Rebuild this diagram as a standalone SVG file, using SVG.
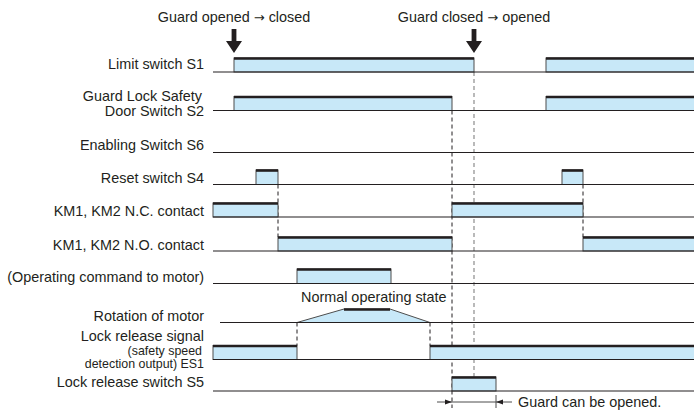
<svg xmlns="http://www.w3.org/2000/svg" width="694" height="413" viewBox="0 0 694 413">
<style>
text{font-family:"Liberation Sans",Arial,sans-serif;font-size:14.4px;fill:#231f20}
.lbl{text-anchor:end}
.sm{font-size:12.4px}
.mid{text-anchor:middle}
.arr{font-family:"DejaVu Sans",sans-serif;font-size:13px}
.base{stroke:#231f20;stroke-width:1.1;fill:none}
.pulse{fill:#c8e8f8;stroke:#4d4d4d;stroke-width:1}
.top{stroke:#231f20;stroke-width:2.6;fill:none}
.dash{stroke:#231f20;stroke-width:1;stroke-dasharray:4 3;fill:none}
.gdash{stroke:#8c8c8c;stroke-width:1.2;stroke-dasharray:4 3;fill:none}
.dim{stroke:#4d4d4d;stroke-width:1;fill:none}
.ah{fill:#231f20}
</style>
<defs>
<path id="down" d="M-2.4,0 H2.4 V12 H8 L0,24 L-8,12 H-2.4 Z" fill="#231f20"/>
</defs>
<rect width="694" height="413" fill="#fff"/>

<g id="events">
<text class="mid" x="234" y="22">Guard opened <tspan class="arr">→</tspan> closed</text>
<use href="#down" x="234" y="29"/>
<text class="mid" x="474" y="22">Guard closed <tspan class="arr">→</tspan> opened</text>
<use href="#down" x="474" y="29"/>
</g>

<g id="connectors">
<line class="dash" x1="278" y1="184.5" x2="278" y2="237"/>
<line class="dash" x1="583" y1="184.5" x2="583" y2="237"/>
<line class="dash" x1="452" y1="110.5" x2="452" y2="408"/>
<line class="gdash" x1="474" y1="72" x2="474" y2="391"/>
<line class="dash" x1="297" y1="322.5" x2="297" y2="345.5"/>
<line class="dash" x1="430" y1="322.5" x2="430" y2="345.5"/>
</g>

<g id="s1">
<text class="lbl" x="204" y="69">Limit switch S1</text>
<rect class="pulse" x="234" y="58" width="240" height="14"/>
<rect class="pulse" x="546" y="58" width="160" height="14"/>
<line class="top" x1="234" y1="58.5" x2="474" y2="58.5"/>
<line class="top" x1="546" y1="58.5" x2="694" y2="58.5"/>
<line class="base" x1="213" y1="72" x2="694" y2="72"/>
</g>

<g id="s2">
<text class="lbl" x="202" y="101">Guard Lock Safety</text>
<text class="lbl" x="204" y="116">Door Switch S2</text>
<rect class="pulse" x="234" y="96.5" width="218" height="14"/>
<rect class="pulse" x="546" y="96.5" width="160" height="14"/>
<line class="top" x1="234" y1="97" x2="452" y2="97"/>
<line class="top" x1="546" y1="97" x2="694" y2="97"/>
<line class="base" x1="213" y1="110.5" x2="694" y2="110.5"/>
</g>

<g id="s6">
<text class="lbl" x="204" y="150">Enabling Switch S6</text>
<line class="base" x1="213" y1="152.5" x2="694" y2="152.5"/>
</g>

<g id="s4">
<text class="lbl" x="204" y="183">Reset switch S4</text>
<rect class="pulse" x="256" y="170" width="22" height="14.5"/>
<rect class="pulse" x="562" y="170" width="21" height="14.5"/>
<line class="top" x1="256" y1="170.5" x2="278" y2="170.5"/>
<line class="top" x1="562" y1="170.5" x2="583" y2="170.5"/>
<line class="base" x1="213" y1="184.5" x2="694" y2="184.5"/>
</g>

<g id="km-nc">
<text class="lbl" x="204" y="215.5">KM1, KM2 N.C. contact</text>
<rect class="pulse" x="213" y="203" width="65" height="14"/>
<rect class="pulse" x="452" y="203" width="131" height="14"/>
<line class="top" x1="213" y1="203.5" x2="278" y2="203.5"/>
<line class="top" x1="452" y1="203.5" x2="583" y2="203.5"/>
<line class="base" x1="213" y1="217" x2="694" y2="217"/>
</g>

<g id="km-no">
<text class="lbl" x="204" y="250">KM1, KM2 N.O. contact</text>
<rect class="pulse" x="278" y="237" width="174" height="14"/>
<rect class="pulse" x="583" y="237" width="120" height="14"/>
<line class="top" x1="278" y1="237.5" x2="452" y2="237.5"/>
<line class="top" x1="583" y1="237.5" x2="694" y2="237.5"/>
<line class="base" x1="213" y1="251" x2="694" y2="251"/>
</g>

<g id="command">
<text class="lbl" x="204" y="281.5">(Operating command to motor)</text>
<rect class="pulse" x="297" y="269" width="94" height="14.5"/>
<line class="top" x1="297" y1="269.5" x2="391" y2="269.5"/>
<line class="base" x1="213" y1="283.5" x2="694" y2="283.5"/>
</g>

<g id="rotation">
<text x="301" y="302">Normal operating state</text>
<text class="lbl" x="204" y="321">Rotation of motor</text>
<polygon class="pulse" points="297,322.5 344,309 390,309 430,322.5"/>
<line class="top" x1="344" y1="309.5" x2="390" y2="309.5"/>
<line class="base" x1="220" y1="322.5" x2="694" y2="322.5"/>
</g>

<g id="es1">
<text class="lbl" x="204" y="340.5">Lock release signal</text>
<text class="lbl sm" x="202" y="354.5">(safety speed</text>
<text class="lbl sm" x="204" y="368">detection output) ES1</text>
<rect class="pulse" x="213" y="345.5" width="84" height="14"/>
<rect class="pulse" x="430" y="345.5" width="270" height="14"/>
<line class="top" x1="213" y1="346" x2="297" y2="346"/>
<line class="top" x1="430" y1="346" x2="694" y2="346"/>
<line class="base" x1="213" y1="359.5" x2="694" y2="359.5"/>
</g>

<g id="s5">
<text class="lbl" x="204" y="387">Lock release switch S5</text>
<rect class="pulse" x="452" y="377" width="44" height="14"/>
<line class="top" x1="452" y1="377.5" x2="496" y2="377.5"/>
<line class="base" x1="213" y1="391" x2="694" y2="391"/>
</g>

<g id="guard-window">
<line class="dim" x1="437" y1="402" x2="512" y2="402"/>
<line class="dim" x1="496" y1="395" x2="496" y2="408"/>
<polygon class="ah" points="452,402 445,399.5 445,404.5"/>
<polygon class="ah" points="496,402 503,399.5 503,404.5"/>
<text x="518" y="407">Guard can be opened.</text>
</g>
</svg>
